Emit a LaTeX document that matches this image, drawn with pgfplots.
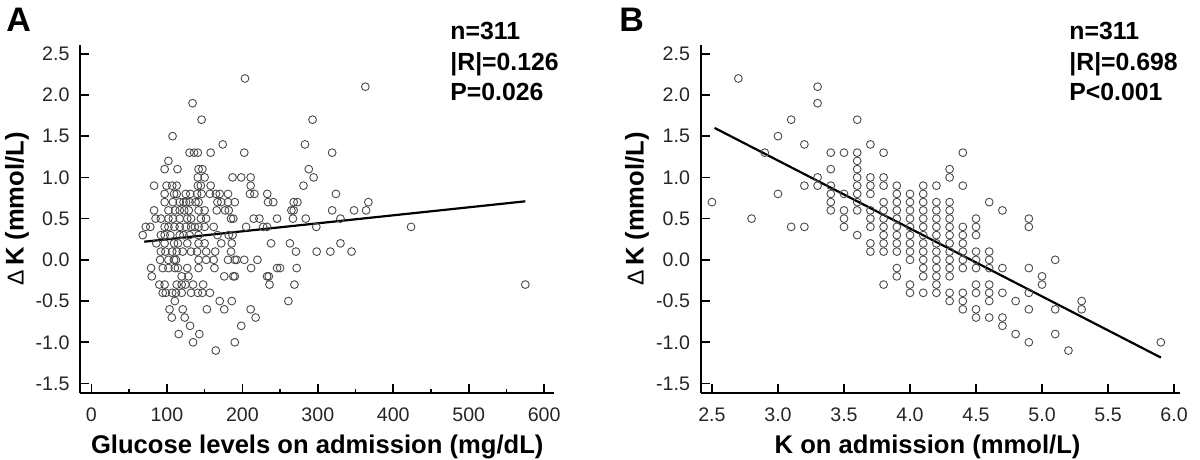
\documentclass[border=0pt]{standalone}
\usepackage{fontspec}
\setmainfont{Liberation Sans}
\usepackage{pgfplots}
\pgfplotsset{compat=1.18}
\definecolor{mk}{HTML}{4A4A4A}
\begin{document}
\begin{tikzpicture}
\useasboundingbox (0,0) rectangle (600pt,230pt);
\pgfplotsset{
  every axis/.append style={
    scale only axis, axis lines*=left,
    axis line style={line width=1pt, black},
    tick align=inside, major tick length=4.3pt, minor tick length=2pt,
    every tick/.style={black, line width=0.8pt},
    tick label style={font=\fontsize{9.8}{11}\selectfont, text=black!85},
    xticklabel shift=4.1pt, yticklabel shift=2pt,
    label style={font=\fontsize{12.8}{14}\selectfont\bfseries},
    ytick={-1.5,-1.0,-0.5,0,0.5,1.0,1.5,2.0,2.5},
    yticklabels={-1.5,-1.0,-0.5,0.0,0.5,1.0,1.5,2.0,2.5},
    ymin=-1.615, ymax=2.606,
    height=174pt,
    clip=false,
  },
  pts/.style={only marks, mark=o, mark size=1.95pt, mark options={draw=mk, line width=0.45pt}},
  fit/.style={black, line width=1.1pt, no marks},
}
% ---------------- Panel A ----------------
\begin{axis}[
  at={(40.25pt,33.5pt)}, anchor=south west,
  width=236.75pt,
  xmin=-14.5, xmax=613,
  xtick={0,100,200,300,400,500,600},
  xticklabels={0,100,200,300,400,500,600},
  minor xtick={50,150,250,350,450,550},
  xlabel={Glucose levels on admission (mg/dL)},
  xlabel style={at={(axis description cs:0.5,0)}, anchor=base, yshift=-30.5pt},
  ylabel={{\mdseries\fontsize{11.5}{12}\selectfont Δ}\,K (mmol/L)},
  ylabel style={at={(axis description cs:-0.12,0.529)}, anchor=base},
]
\addplot[pts] coordinates {
(203.5,2.2) (363,2.1) (134,1.9) (146,1.7) (293,1.7) (107.5,1.5) (174,1.4) (283,1.4)
(130,1.3) (136,1.3) (141,1.3) (158,1.3) (202.5,1.3) (319,1.3) (102,1.2)
(97,1.1) (114,1.1) (142,1.1) (147,1.1) (288,1.1)
(141,1.0) (150,1.0) (187,1.0) (198.5,1.0) (211,1.0) (294.5,1.0)
(83,0.9) (99.5,0.9) (107,0.9) (113,0.9) (141,0.9) (145,0.9) (158,0.9) (211,0.9) (281,0.9)
(97,0.8) (109.5,0.8) (113,0.8) (125,0.8) (131,0.8) (140,0.8) (146,0.8) (157,0.8) (165,0.8) (170,0.8) (181,0.8) (210,0.8) (216,0.8) (233,0.8) (324,0.8)
(97,0.7) (108,0.7) (117,0.7) (122,0.7) (125.5,0.7) (130,0.7) (138,0.7) (142,0.7) (167,0.7) (172,0.7) (181,0.7) (190,0.7) (234,0.7) (241,0.7) (268,0.7) (273,0.7) (367,0.7)
(83,0.6) (102,0.6) (111,0.6) (117,0.6) (123,0.6) (129,0.6) (142,0.6) (150,0.6) (166,0.6) (177,0.6) (182,0.6) (265,0.6) (268,0.6) (319,0.6) (348,0.6) (364,0.6)
(85,0.5) (92,0.5) (102,0.5) (108,0.5) (117,0.5) (127,0.5) (132,0.5) (145,0.5) (152,0.5) (185,0.5) (188,0.5) (215,0.5) (222.6,0.5) (246,0.5) (267,0.5) (284,0.5) (330,0.5)
(72,0.4) (78,0.4) (97,0.4) (102,0.4) (110,0.4) (117,0.4) (125,0.4) (132,0.4) (137,0.4) (142,0.4) (150,0.4) (162,0.4) (205,0.4) (227.6,0.4) (232.7,0.4) (298,0.4) (423.6,0.4)
(68,0.3) (92,0.3) (97,0.3) (104.5,0.3) (117,0.3) (122,0.3) (130,0.3) (142,0.3) (167,0.3) (182,0.3) (187,0.3)
(86,0.2) (97,0.2) (109.5,0.2) (114.6,0.2) (127,0.2) (142,0.2) (150,0.2) (172,0.2) (186,0.2) (238,0.2) (263,0.2) (330,0.2)
(92,0.1) (98,0.1) (107,0.1) (113,0.1) (121,0.1) (132,0.1) (140,0.1) (152,0.1) (164,0.1) (185,0.1) (271,0.1) (298.5,0.1) (316.6,0.1) (344.7,0.1)
(91,0) (102,0) (109.5,0) (112,0) (142,0) (152,0) (162,0) (181,0) (190,0) (192.5,0) (202.5,0) (220,0)
(79,-0.1) (94.5,-0.1) (102,-0.1) (110.5,-0.1) (114.6,-0.1) (127,-0.1) (142,-0.1) (163,-0.1) (211.6,-0.1) (246,-0.1) (250,-0.1) (272,-0.1)
(80,-0.2) (119.6,-0.2) (128.6,-0.2) (176,-0.2) (188,-0.2) (190,-0.2) (232.7,-0.2) (235,-0.2)
(90,-0.3) (97,-0.3) (113,-0.3) (119.6,-0.3) (124.6,-0.3) (134.7,-0.3) (148,-0.3) (236,-0.3) (269,-0.3) (575,-0.3)
(94.5,-0.4) (98.5,-0.4) (107,-0.4) (112,-0.4) (119.6,-0.4) (132,-0.4) (141,-0.4) (147,-0.4) (157,-0.4)
(110.5,-0.5) (170,-0.5) (186,-0.5) (261,-0.5)
(103.5,-0.6) (121,-0.6) (153,-0.6) (176,-0.6) (211,-0.6)
(106.5,-0.7) (123.6,-0.7) (217.6,-0.7)
(130.7,-0.8) (198.5,-0.8) (115.6,-0.9) (143,-0.9) (134.7,-1.0) (190,-1.0) (164.8,-1.1)
};
\addplot[fit] coordinates {(70,0.22) (575,0.71)};
\end{axis}
% ---------------- Panel B ----------------
\begin{axis}[
  at={(350.5pt,33.5pt)}, anchor=south west,
  width=239.5pt,
  xmin=2.417, xmax=6.045,
  xtick={2.5,3.0,3.5,4.0,4.5,5.0,5.5,6.0},
  xticklabels={2.5,3.0,3.5,4.0,4.5,5.0,5.5,6.0},
  xlabel={K on admission (mmol/L)},
  xlabel style={at={(axis description cs:0.473,0)}, anchor=base, yshift=-30.5pt},
  ylabel={{\mdseries\fontsize{11.5}{12}\selectfont Δ}\,K (mmol/L)},
  ylabel style={at={(axis description cs:-0.12,0.529)}, anchor=base},
]
\addplot[pts] coordinates {
(2.5,0.7) (2.7,2.2) (2.8,0.5) (2.9,1.3) (3.0,1.5) (3.0,0.8) (3.1,1.7) (3.1,0.4)
(3.2,1.4) (3.2,0.9) (3.2,0.4) (3.3,2.1) (3.3,1.9) (3.3,1.0) (3.3,0.9)
(3.4,1.3) (3.4,1.1) (3.4,0.9) (3.4,0.8) (3.4,0.7) (3.4,0.6)
(3.5,1.3) (3.5,0.8) (3.5,0.6) (3.5,0.5) (3.5,0.4)
(3.6,1.7) (3.6,1.3) (3.6,1.2) (3.6,1.1) (3.6,1.0) (3.6,0.9) (3.6,0.8) (3.6,0.7) (3.6,0.6) (3.6,0.3)
(3.7,1.4) (3.7,1.0) (3.7,0.9) (3.7,0.8) (3.7,0.6) (3.7,0.5) (3.7,0.4) (3.7,0.2) (3.7,0.1)
(3.8,1.3) (3.8,1.0) (3.8,0.9) (3.8,0.7) (3.8,0.6) (3.8,0.5) (3.8,0.4) (3.8,0.3) (3.8,0.2) (3.8,0.1) (3.8,-0.3)
(3.9,0.9) (3.9,0.8) (3.9,0.7) (3.9,0.6) (3.9,0.5) (3.9,0.4) (3.9,0.3) (3.9,0.2) (3.9,0.1) (3.9,-0.1) (3.9,-0.2)
(4.0,0.8) (4.0,0.7) (4.0,0.6) (4.0,0.5) (4.0,0.4) (4.0,0.3) (4.0,0.2) (4.0,0.1) (4.0,0) (4.0,-0.3) (4.0,-0.4)
(4.1,0.9) (4.1,0.8) (4.1,0.7) (4.1,0.6) (4.1,0.5) (4.1,0.4) (4.1,0.3) (4.1,0.2) (4.1,0.1) (4.1,0) (4.1,-0.1) (4.1,-0.2) (4.1,-0.4)
(4.2,0.9) (4.2,0.7) (4.2,0.6) (4.2,0.5) (4.2,0.4) (4.2,0.3) (4.2,0.2) (4.2,0.1) (4.2,0) (4.2,-0.1) (4.2,-0.2) (4.2,-0.3) (4.2,-0.4)
(4.3,1.1) (4.3,1.0) (4.3,0.7) (4.3,0.6) (4.3,0.5) (4.3,0.4) (4.3,0.3) (4.3,0.2) (4.3,0.1) (4.3,0) (4.3,-0.1) (4.3,-0.2) (4.3,-0.4) (4.3,-0.5)
(4.4,1.3) (4.4,0.9) (4.4,0.4) (4.4,0.3) (4.4,0.2) (4.4,0.1) (4.4,0) (4.4,-0.1) (4.4,-0.4) (4.4,-0.5) (4.4,-0.6)
(4.5,0.5) (4.5,0.4) (4.5,0.3) (4.5,0.1) (4.5,0) (4.5,-0.1) (4.5,-0.3) (4.5,-0.4) (4.5,-0.6) (4.5,-0.7)
(4.6,0.7) (4.6,0.1) (4.6,0) (4.6,-0.1) (4.6,-0.3) (4.6,-0.4) (4.6,-0.5) (4.6,-0.7)
(4.7,0.6) (4.7,-0.1) (4.7,-0.4) (4.7,-0.7) (4.7,-0.8)
(4.8,-0.5) (4.8,-0.9)
(4.9,0.5) (4.9,0.4) (4.9,-0.1) (4.9,-0.4) (4.9,-0.6) (4.9,-1.0)
(5.0,-0.2) (5.0,-0.3) (5.1,0) (5.1,-0.6) (5.1,-0.9) (5.2,-1.1) (5.3,-0.5) (5.3,-0.6) (5.9,-1.0)
};
\addplot[fit] coordinates {(2.52,1.60) (5.9,-1.185)};
\end{axis}
% ---------------- Annotations ----------------
\begin{scope}[every node/.style={anchor=base west, inner sep=0pt, font=\fontsize{12.4}{14}\selectfont\bfseries}]
\node at (225pt,210pt) {n=311};
\node at (225pt,194.6pt) {|R|=0.126};
\node at (225pt,179.5pt) {P=0.026};
\node at (534.5pt,210pt) {n=311};
\node at (534.5pt,194.6pt) {|R|=0.698};
\node at (534.5pt,179.5pt) {P<0.001};
\end{scope}
\node[anchor=base west, inner sep=0pt, font=\fontsize{17}{20}\selectfont\bfseries] at (3pt,214.2pt) {A};
\node[anchor=base west, inner sep=0pt, font=\fontsize{17}{20}\selectfont\bfseries] at (309.5pt,214.2pt) {B};
\end{tikzpicture}
\end{document}
